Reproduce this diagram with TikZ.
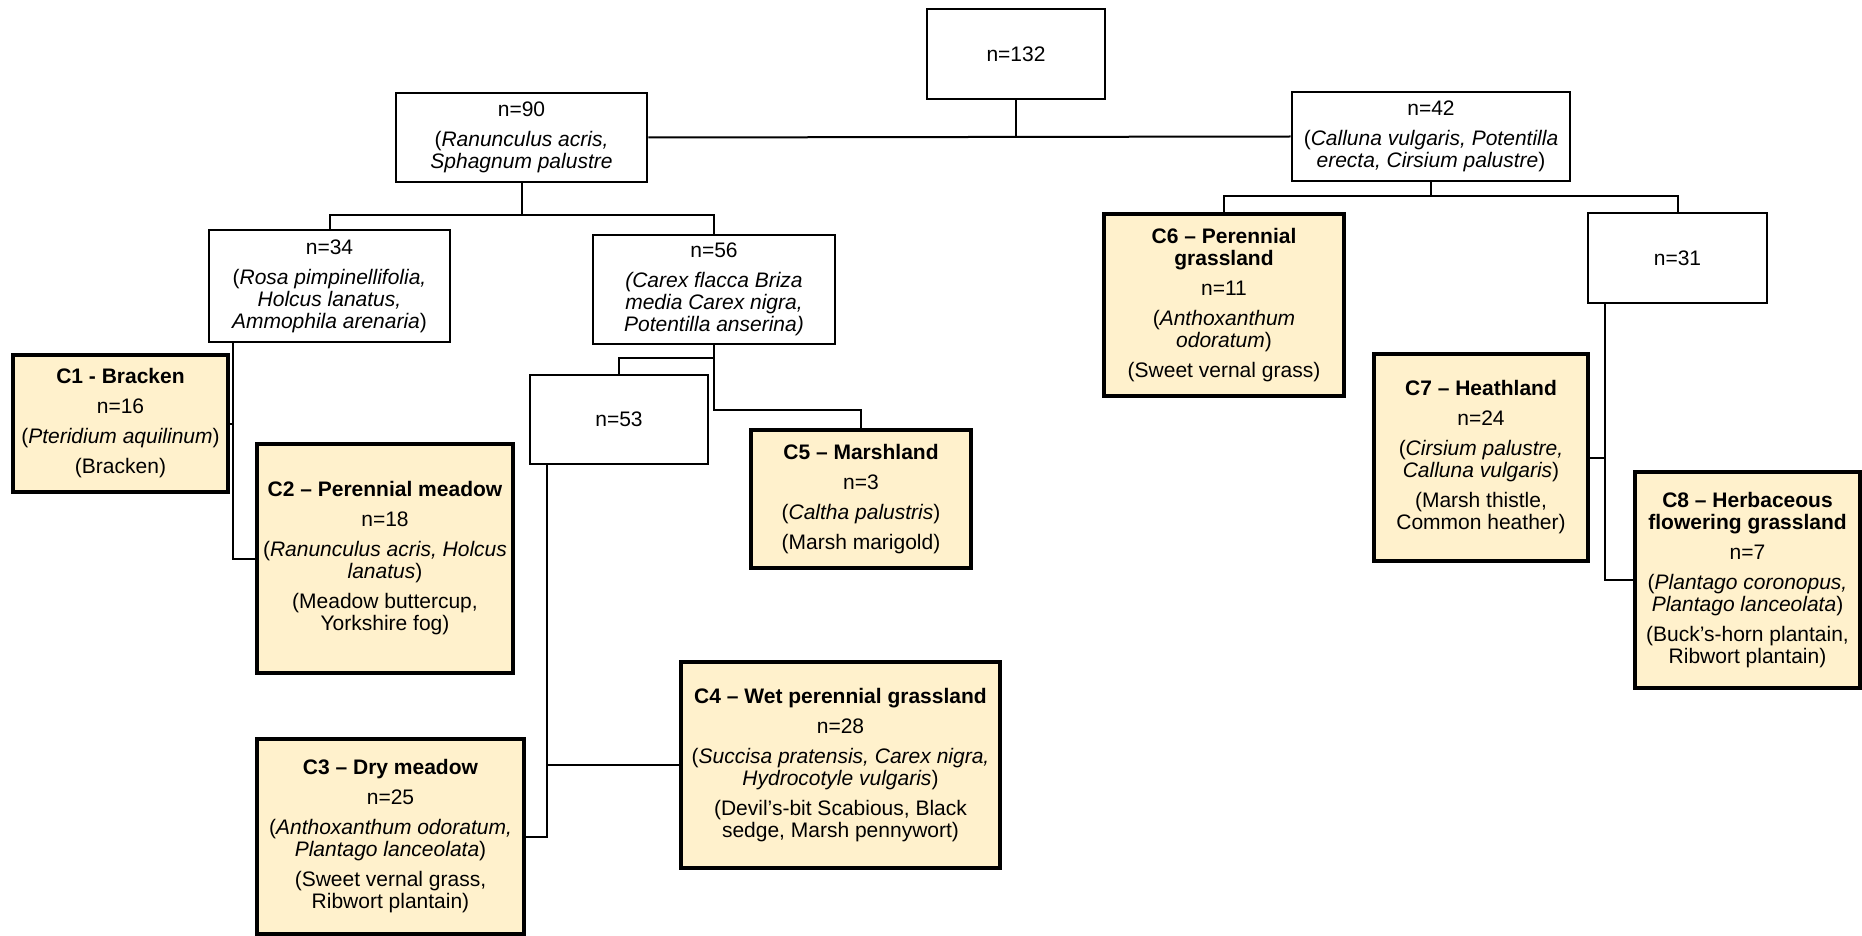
\documentclass[tikz,border=0pt]{standalone}
\usepackage{fontspec}
\setmainfont{Liberation Sans}
\usetikzlibrary{calc}
\definecolor{groupfill}{RGB}{255,241,204}

\begin{document}
\begin{tikzpicture}[x=0.5pt, y=-0.5pt,
  every node/.style={font=\fontsize{10.5}{11}\selectfont, align=center, inner sep=0pt},
  split/.style={draw=black, line width=1.4pt, fill=white},
  group/.style={draw=black, line width=2.1pt, fill=groupfill},
  link/.style={draw=black, line width=1pt}]
\useasboundingbox (0,0) rectangle (1862,936);

\node[split, minimum width=89pt, minimum height=45pt] (n132) at (1016,54) {n=132};
\node[split, minimum width=125.5pt, minimum height=44.5pt] (n90) at (521.5,137.5)
  {n=90\\[4pt] (\textit{Ranunculus acris,}\\ \textit{Sphagnum palustre}};
\node[split, minimum width=139pt, minimum height=44.5pt] (n42) at (1431,136.5)
  {n=42\\[4pt] (\textit{Calluna vulgaris, Potentilla}\\ \textit{erecta, Cirsium palustre})};
\node[split, minimum width=120.5pt, minimum height=56pt] (n34) at (329.5,286)
  {n=34\\[4pt] (\textit{Rosa pimpinellifolia,}\\ \textit{Holcus lanatus,}\\ \textit{Ammophila arenaria})};
\node[split, minimum width=121pt, minimum height=54.5pt] (n56) at (714,289.5)
  {n=56\\[4pt] \textit{(Carex flacca Briza}\\ \textit{media Carex nigra,}\\ \textit{Potentilla anserina)}};
\node[split, minimum width=89pt, minimum height=44.5pt] (n53) at (619,419.5) {n=53};
\node[split, minimum width=89.5pt, minimum height=45pt] (n31) at (1677.5,258) {n=31};

\node[group, minimum width=107.5pt, minimum height=68.5pt] (c1) at (120.5,423.5)
  {\textbf{C1 - Bracken}\\[4pt] n=16\\[4pt] (\textit{Pteridium aquilinum})\\[4pt] (Bracken)};
\node[group, minimum width=128pt, minimum height=114.5pt] (c2) at (385,558.5)
  {\textbf{C2 – Perennial meadow}\\[4pt] n=18\\[4pt] (\textit{Ranunculus acris, Holcus}\\ \textit{lanatus})\\[4pt] (Meadow buttercup,\\ Yorkshire fog)};
\node[group, minimum width=133.5pt, minimum height=97.5pt] (c3) at (390.5,836.5)
  {\textbf{C3 – Dry meadow}\\[4pt] n=25\\[4pt] (\textit{Anthoxanthum odoratum,}\\ \textit{Plantago lanceolata})\\[4pt] (Sweet vernal grass,\\ Ribwort plantain)};
\node[group, minimum width=159.5pt, minimum height=103pt] (c4) at (840.5,765)
  {\textbf{C4 – Wet perennial grassland}\\[4pt] n=28\\[4pt] (\textit{Succisa pratensis, Carex nigra,}\\ \textit{Hydrocotyle vulgaris})\\[4pt] (Devil’s-bit Scabious, Black\\ sedge, Marsh pennywort)};
\node[group, minimum width=110pt, minimum height=69pt] (c5) at (861,499)
  {\textbf{C5 – Marshland}\\[4pt] n=3\\[4pt] (\textit{Caltha palustris})\\[4pt] (Marsh marigold)};
\node[group, minimum width=120pt, minimum height=91pt] (c6) at (1224,305)
  {\textbf{C6 – Perennial}\\ \textbf{grassland}\\[4pt] n=11\\[4pt] (\textit{Anthoxanthum}\\ \textit{odoratum})\\[4pt] (Sweet vernal grass)};
\node[group, minimum width=107pt, minimum height=103.5pt] (c7) at (1481,457.5)
  {\textbf{C7 – Heathland}\\[4pt] n=24\\[4pt] (\textit{Cirsium palustre,}\\ \textit{Calluna vulgaris})\\[4pt] (Marsh thistle,\\ Common heather)};
\node[group, minimum width=112.5pt, minimum height=108pt] (c8) at (1747.5,580)
  {\textbf{C8 – Herbaceous}\\ \textbf{flowering grassland}\\[4pt] n=7\\[4pt] (\textit{Plantago coronopus,}\\ \textit{Plantago lanceolata})\\[4pt] (Buck’s-horn plantain,\\ Ribwort plantain)};

\draw[link] (n132.south) -- (n132.south |- n90.east);
\draw[link] (n90.east) -- (n42.west);
\draw[link] (n90.south) -- ++(0,32) -| (n34.north);
\draw[link] (n90.south) -- ++(0,32) -| (n56.north);
\draw[link] (n42.south) -- ++(0,14) -| (c6.north);
\draw[link] (n42.south) -- ++(0,14) -| (n31.north);

\coordinate (t34) at ([xshift=12.5pt]n34.south west);
\draw[link] (t34) |- (c2.west);
\draw[link] (c1.east) -- (c1.east -| t34);

\draw[link] (n56.south) -- ++(0,13) -| (n53.north);
\draw[link] (n56.south) |- ([yshift=9pt]c5.north) -- (c5.north);

\coordinate (t53) at ([xshift=9pt]n53.south west);
\draw[link] (t53) |- (c3.east);
\draw[link] (c4.west) -- (c4.west -| t53);

\coordinate (t31) at ([xshift=9pt]n31.south west);
\draw[link] (t31) |- (c8.west);
\draw[link] (c7.east) -- (c7.east -| t31);
\end{tikzpicture}
\end{document}
